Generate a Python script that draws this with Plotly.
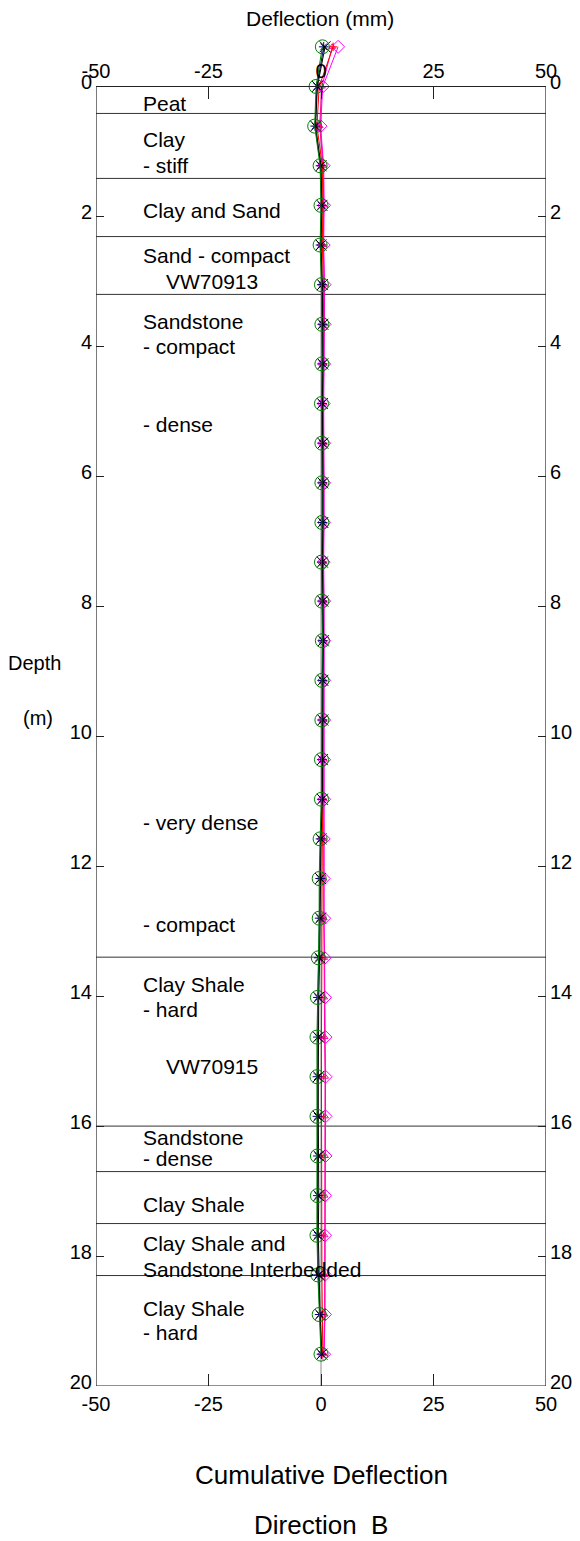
import plotly.graph_objects as go

# Depth of each reading (m)
depths = [-0.61, 0.00, 0.61, 1.22, 1.83, 2.44, 3.05, 3.66, 4.27, 4.88, 5.49,
          6.10, 6.71, 7.32, 7.92, 8.53, 9.14, 9.75, 10.36, 10.97, 11.58,
          12.19, 12.80, 13.41, 14.02, 14.63, 15.24, 15.85, 16.46, 17.07,
          17.68, 18.29, 18.90, 19.51]

# Cumulative deflection readings (mm)
read_green = [0.3, -1.1, -1.4, -0.2, 0.0, -0.2, 0.1, 0.2, 0.2, 0.1, 0.2,
              0.2, 0.2, 0.1, 0.2, 0.3, 0.2, 0.2, 0.1, 0.1, -0.2,
              -0.4, -0.4, -0.6, -0.8, -0.9, -0.9, -0.9, -0.8, -0.8,
              -0.9, -0.7, -0.4, 0.0]
read_black = [0.9, -0.8, -1.2, 0.0, 0.2, 0.0, 0.3, 0.4, 0.4, 0.3, 0.4,
              0.4, 0.4, 0.3, 0.4, 0.5, 0.4, 0.4, 0.3, 0.3, 0.0,
              -0.1, -0.1, -0.3, -0.5, -0.6, -0.6, -0.6, -0.5, -0.5,
              -0.6, -0.4, -0.2, 0.2]
read_navy = [0.6, -0.9, -1.3, -0.1, 0.1, -0.1, 0.2, 0.3, 0.3, 0.2, 0.3,
             0.3, 0.3, 0.2, 0.3, 0.4, 0.3, 0.3, 0.2, 0.2, -0.1,
             -0.2, -0.3, -0.5, -0.7, -0.7, -0.8, -0.8, -0.7, -0.7,
             -0.8, -0.6, -0.3, 0.1]
read_red = [2.7, -0.4, -0.9, 0.3, 0.4, 0.3, 0.5, 0.6, 0.5, 0.4, 0.5,
            0.5, 0.5, 0.4, 0.5, 0.5, 0.5, 0.5, 0.4, 0.4, 0.3,
            0.2, 0.2, 0.2, 0.1, 0.1, 0.1, 0.1, 0.2, 0.2,
            0.1, 0.2, 0.3, 0.4]
read_magenta = [2.5, 0.2, -0.3, 0.5, 0.6, 0.5, 0.7, 0.7, 0.6, 0.5, 0.6,
                0.6, 0.6, 0.5, 0.6, 0.6, 0.6, 0.6, 0.6, 0.6, 0.5,
                0.5, 0.6, 0.7, 0.7, 0.8, 0.9, 0.9, 0.9, 0.8,
                0.8, 0.8, 0.8, 0.6]
read_pink = [3.8, 0.4, -0.1, 0.6, 0.7, 0.6, 0.8, 0.8, 0.7, 0.6, 0.7,
             0.7, 0.7, 0.6, 0.7, 0.7, 0.7, 0.7, 0.7, 0.7, 0.6,
             0.6, 0.7, 0.8, 0.9, 1.0, 1.0, 1.0, 1.0, 0.9,
             0.9, 0.9, 0.9, 0.7]

# Stratigraphy
layer_bounds = [0.415, 1.415, 2.31, 3.2, 13.4, 16.0, 16.7, 17.5, 18.3]
layer_labels = ["Peat", "Clay", "- stiff", "Clay and Sand", "Sand - compact",
                "VW70913", "Sandstone", "- compact", "- dense",
                "- very dense", "- compact", "Clay Shale", "- hard",
                "VW70915", "Sandstone", "- dense", "Clay Shale",
                "Clay Shale and", "Sandstone Interbedded", "Clay Shale",
                "- hard"]
label_depths = [0.26, 0.82, 1.22, 1.91, 2.60, 3.00, 3.62, 4.00, 5.20,
                11.32, 12.90, 13.82, 14.20, 15.09, 16.17, 16.50, 17.20,
                17.80, 18.20, 18.80, 19.18]
label_x = [-40, -40, -40, -40, -40, -35, -40, -40, -40, -40, -40, -40,
           -40, -35, -40, -40, -40, -40, -40, -40, -40]

x_ticks = [-50, -25, 0, 25, 50]
x_tick_text = ["-50", "-25", "0", "25", "50"]
depth_ticks = [0, 2, 4, 6, 8, 10, 12, 14, 16, 18, 20]

FONT = "Arial, Liberation Sans, sans-serif"
DEPTH_RANGE = [20, -0.9]

W, H = 580, 1541
ML, MR, MT, MB = 96, 34, 27.5, 155
PW, PH = W - ML - MR, H - MT - MB

fig = go.Figure()

series = [
    (read_pink, "#ff00ff", "diamond-open", 10),
    (read_magenta, "#ff00aa", "triangle-up-open", 6),
    (read_red, "#ff0000", "cross-thin-open", 6),
    (read_navy, "#000080", "asterisk-open", 8),
    (read_black, "#000000", "x-thin-open", 11),
    (read_green, "#008000", "circle-open", 14),
]
for vals, color, sym, size in series:
    fig.add_trace(go.Scatter(
        x=vals, y=depths, mode="lines+markers",
        line=dict(color=color, width=1),
        marker=dict(symbol=sym, size=size, color=color,
                    line=dict(color=color, width=1)),
        cliponaxis=False, showlegend=False, hoverinfo="skip"))

# helper traces so the top and right axes are drawn
fig.add_trace(go.Scatter(x=[0], y=[10], xaxis="x2", yaxis="y", mode="markers",
                         marker=dict(opacity=0), showlegend=False,
                         hoverinfo="skip"))
fig.add_trace(go.Scatter(x=[0], y=[10], xaxis="x", yaxis="y2", mode="markers",
                         marker=dict(opacity=0), showlegend=False,
                         hoverinfo="skip"))

shapes = [dict(type="line", xref="x", yref="y", x0=0, x1=0, y0=0, y1=20,
               line=dict(color="#8c8c8c", width=1), layer="below")]
for b in layer_bounds:
    shapes.append(dict(type="line", xref="x", yref="y", x0=-50, x1=50,
                       y0=b, y1=b, line=dict(color="#333333", width=1),
                       layer="below"))
shapes.append(dict(type="rect", xref="x", yref="y", x0=-50, x1=50, y0=0,
                   y1=20, line=dict(color="#222222", width=1.2)))

annotations = []
for txt, d, xx in zip(layer_labels, label_depths, label_x):
    annotations.append(dict(x=xx, y=d, xref="x", yref="y", text=txt,
                            showarrow=False, xanchor="left", yanchor="middle",
                            font=dict(size=21, color="black", family=FONT)))

# page-positioned captions (pixel centres converted to paper fractions)
paper_text = [
    ("Deflection (mm)", 320, 18, 21),
    ("Depth", 35, 663, 20),
    ("(m)", 38, 718, 20),
    ("Cumulative Deflection", 321, 1475, 26),
    ("Direction  B", 321, 1525, 26),
]
for txt, px, py, fs in paper_text:
    annotations.append(dict(x=(px - ML) / PW, y=(H - MB - py) / PH,
                            xref="paper", yref="paper",
                            text=txt, showarrow=False, xanchor="center",
                            yanchor="middle",
                            font=dict(size=fs, color="black", family=FONT)))

top_pos = (DEPTH_RANGE[0] - 0) / (DEPTH_RANGE[0] - DEPTH_RANGE[1])

axis_common = dict(showgrid=False, zeroline=False, showline=False,
                   automargin=False, ticks="inside", tickcolor="#222222",
                   tickfont=dict(size=20, color="black", family=FONT))

fig.update_layout(
    width=W, height=H,
    margin=dict(l=ML, r=MR, t=MT, b=MB, autoexpand=False),
    paper_bgcolor="white", plot_bgcolor="white",
    font=dict(family=FONT, color="black"),
    xaxis=dict(range=[-50, 50], tickvals=x_ticks, ticktext=x_tick_text,
               ticklen=12, ticklabelstandoff=4,
               side="bottom", anchor="y", **axis_common),
    xaxis2=dict(range=[-50, 50], tickvals=x_ticks, ticktext=x_tick_text,
                ticklen=12, ticklabelstandoff=4,
                side="top", overlaying="x", anchor="free", position=top_pos,
                **axis_common),
    yaxis=dict(range=DEPTH_RANGE, tickvals=depth_ticks, ticklen=8,
               ticklabelstandoff=3, ticklabelshift=4,
               side="left", anchor="x", **axis_common),
    yaxis2=dict(range=DEPTH_RANGE, tickvals=depth_ticks, ticklen=8,
                ticklabelstandoff=3, ticklabelshift=4,
                side="right", overlaying="y", anchor="x", **axis_common),
    shapes=shapes, annotations=annotations,
)

fig.write_html("out.html")
